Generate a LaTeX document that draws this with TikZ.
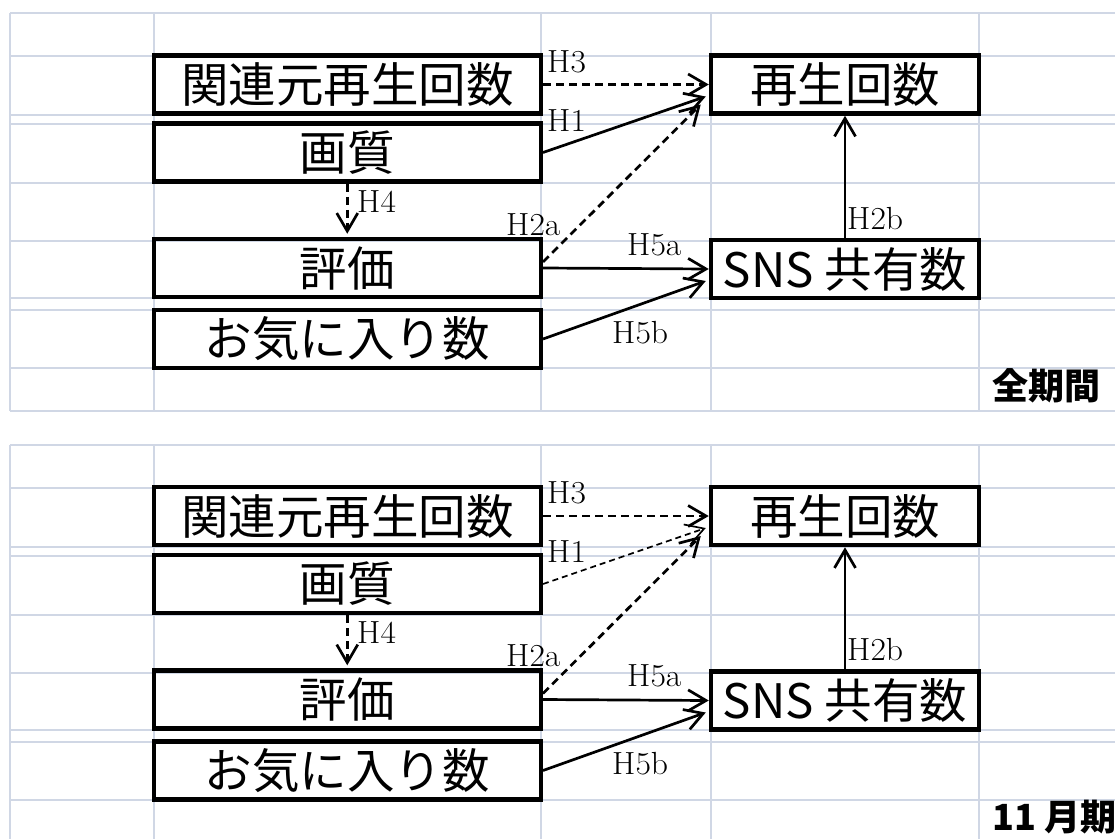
\documentclass[tikz,border=0pt]{standalone}
\usepackage{fontspec}
\newfontfamily\jp{Noto Sans CJK JP}
\usetikzlibrary{arrows.meta,calc}
\definecolor{gridc}{HTML}{D0D7E5}
\tikzset{
  gridline/.style={draw=gridc, line width=2pt},
  box/.style={draw=black, line width=4.5pt, minimum height=58pt, inner sep=0pt,
    font=\jp\fontsize{47.5}{52}\selectfont},
  lbox/.style={box, minimum width=387pt},
  rbox/.style={box, minimum width=268pt},
  arr/.style={line width=2.7pt, -{Straight Barb[length=18pt,width=21pt]}},
  darr/.style={arr, dash pattern=on 8pt off 5pt},
  thindarr/.style={arr, line width=1.7pt, dash pattern=on 6pt off 4pt},
  hlab/.style={font=\fontsize{32}{36}\selectfont, inner sep=0pt, anchor=base west, xscale=1.05},
  corner/.style={font=\jp\bfseries\fontsize{36}{40}\selectfont, inner sep=0pt, anchor=west},
}
\newcommand\drawpanel[4]{%
\begin{scope}[yshift=#4]
  \foreach \gx in {10,154,541,711,979} \draw[gridline] (\gx,13) -- (\gx,411);
  \foreach \gy in {13,56,115,124,183,241,298,310,368,411} \draw[gridline] (10,\gy) -- (1115,\gy);
  \node[lbox] (#1rel) at (347.25,84.5) {関連元再生回数};
  \node[lbox] (#1hq) at (347.25,152.5) {画質};
  \node[lbox] (#1ev) at (347.25,268) {評価};
  \node[lbox] (#1fav) at (347.25,339) {お気に入り数};
  \node[rbox] (#1play) at (845,84.5) {再生回数};
  \node[rbox] (#1sns) at (845,269) {SNS 共有数};
  \node[corner] (#1per) at (992,386) {#3};
  \coordinate (#1p1) at ($(#1play.west)+(-3,12)$);
  \coordinate (#1p2) at ($(#1play.west)+(-8,20)$);
  \coordinate (#1e2) at ($(#1ev.east)+(0,-6)$);
  \coordinate (#1s1) at ($(#1sns.west)+(-3,12)$);
  \draw[darr] (#1rel.east) -- (#1play.west);
  \draw[#2] (#1hq.east) -- (#1p1);
  \draw[darr] (#1e2) -- (#1p2);
  \draw[arr] (#1ev.east) -- (#1sns.west);
  \draw[arr] (#1fav.east) -- (#1s1);
  \draw[arr] (#1sns.north) -- (#1play.south);
  \draw[darr, shorten >=3pt] (#1hq.south) -- (#1ev.north);
  \node[hlab] (#1lh3) at (547,72) {H3};
  \node[hlab] (#1lh1) at (547,131) {H1};
  \node[hlab] (#1lh2a) at (506,235) {H2a};
  \node[hlab] (#1lh5a) at (627,255) {H5a};
  \node[hlab] (#1lh5b) at (612,343) {H5b};
  \node[hlab] (#1lh2b) at (847,229) {H2b};
  \node[hlab] (#1lh4) at (357,212) {H4};
\end{scope}}
\begin{document}
\begin{tikzpicture}[x=1pt,y=-1pt]
\useasboundingbox (0,0) rectangle (1115,838);
\fill[white] (0,0) rectangle (1115,838);
\drawpanel{a}{arr}{全期間}{0pt}
\drawpanel{b}{thindarr}{11 月期}{-431.5pt}
\end{tikzpicture}
\end{document}
